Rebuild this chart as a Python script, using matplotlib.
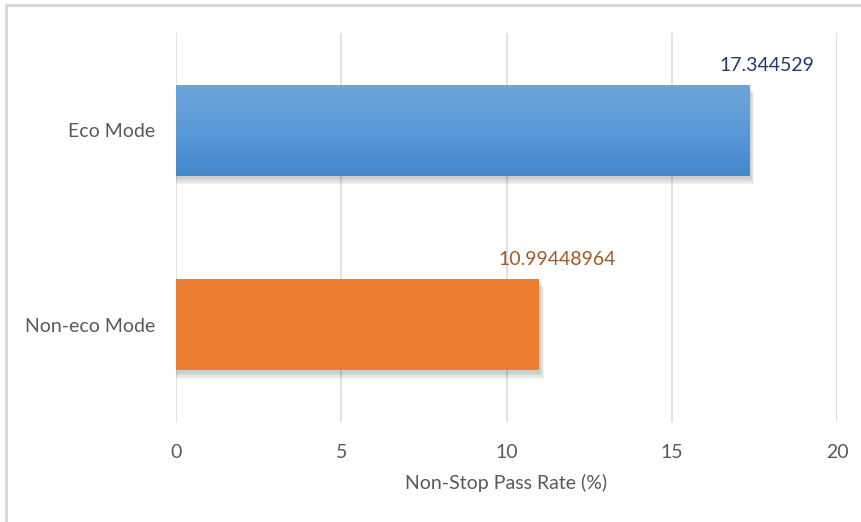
import numpy as np
import matplotlib.pyplot as plt
from matplotlib.patches import Rectangle
from matplotlib.colors import LinearSegmentedColormap

plt.rcParams['font.family'] = ['Lato', 'DejaVu Sans']

modes = ['Non-eco Mode', 'Eco Mode']
rates = [10.99448964, 17.344529]
rate_labels = ['10.99448964', '17.344529']
label_colors = ['#9e5a28', '#22386e']

fig = plt.figure(figsize=(8.62, 5.22), dpi=100)
ax = fig.add_axes([0.2042, 0.1916, 0.7668, 0.7452])

# light frame around the chart area (only top/left edges fall inside the image)
fig.add_artist(Rectangle((0.0075, -0.05), 1.2, 1.04, transform=fig.transFigure,
                         fill=False, edgecolor='#d9d9d9', linewidth=2.2))

ypos = np.arange(len(modes))
h = 0.47

# soft drop shadow behind the bars
for k in range(4):
    off = 0.018 + k * 0.008
    ax.barh(ypos - off, [r + 0.05 + k * 0.03 for r in rates], height=h,
            color='black', alpha=0.05, linewidth=0, zorder=2)

bars = ax.barh(ypos, rates, height=h, color=['#ed7d31', '#5b9bd5'],
               linewidth=0, zorder=3)

# vertical gradient on the eco bar
grad = np.linspace(0, 1, 256).reshape(-1, 1)
cmap = LinearSegmentedColormap.from_list('eco', ['#4488cb', '#5a9ad8', '#70a6da'])
b = bars[1]
x0, y0 = b.get_x(), b.get_y()
im = ax.imshow(grad, cmap=cmap, aspect='auto', origin='lower',
               extent=[x0, x0 + b.get_width(), y0, y0 + b.get_height()], zorder=4)
im.set_clip_path(b)

for r, lab, c, y in zip(rates, rate_labels, label_colors, ypos):
    ax.annotate(lab, xy=(r, y + h / 2), xytext=(13, 14), textcoords='offset points',
                ha='center', va='center', color=c, fontsize=14)

ax.set_xlim(0, 20)
ax.set_ylim(-0.5, 1.5)
ax.set_xticks([0, 5, 10, 15, 20])
ax.set_yticks(ypos)
ax.set_yticklabels(modes)
ax.grid(axis='x', color='#d9d9d9', linewidth=1.1, zorder=0)
ax.set_axisbelow(True)
for s in ax.spines.values():
    s.set_visible(False)
ax.tick_params(length=0, colors='#595959', labelsize=14)
ax.tick_params(axis='x', pad=16)
ax.tick_params(axis='y', pad=15)
ax.set_xlabel('Non-Stop Pass Rate (%)', color='#595959', fontsize=14, labelpad=9)

fig.savefig('out.png', dpi=100)
